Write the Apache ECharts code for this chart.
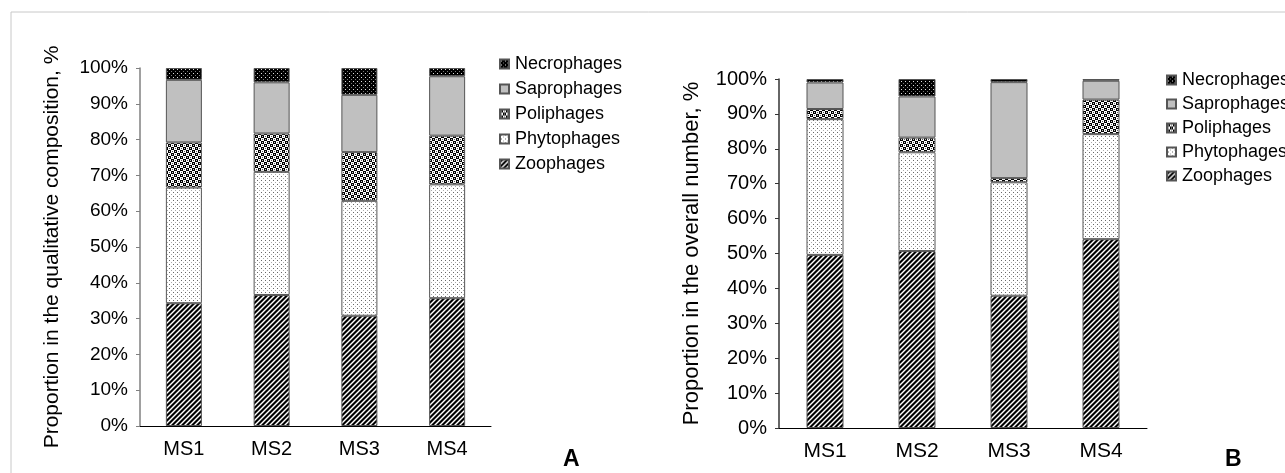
<!DOCTYPE html>
<html><head><meta charset="utf-8">
<script src="https://cdn.jsdelivr.net/npm/echarts@6/dist/echarts.min.js"></script>
<style>html,body{margin:0;padding:0;background:#fff}#c{width:1285px;height:473px}</style>
</head><body><div id="c"></div>
<script>
const categories = ['MS1', 'MS2', 'MS3', 'MS4'];
const seriesNames = ['Zoophages', 'Phytophages', 'Poliphages', 'Saprophages', 'Necrophages'];
const legendOrder = ['Necrophages', 'Saprophages', 'Poliphages', 'Phytophages', 'Zoophages'];
const yTicks = [0, 10, 20, 30, 40, 50, 60, 70, 80, 90, 100];

// Panel A: qualitative composition, %
const zoophagesA   = [34.3, 36.6, 30.8, 35.7];
const phytophagesA = [32.3, 34.4, 32.1, 31.8];
const poliphagesA  = [12.6, 10.7, 13.6, 13.6];
const saprophagesA = [17.5, 14.3, 16.0, 16.6];
const necrophagesA = [3.3, 4.0, 7.5, 2.3];

// Panel B: overall number, %
const zoophagesB   = [49.6, 50.7, 37.9, 54.1];
const phytophagesB = [38.9, 28.3, 32.5, 30.1];
const poliphagesB  = [2.9, 4.2, 1.2, 9.9];
const saprophagesB = [7.6, 11.8, 27.5, 5.4];
const necrophagesB = [1.0, 5.0, 0.9, 0.5];

function makePattern(w, h, draw) {
  const c = document.createElement('canvas');
  c.width = w; c.height = h;
  const ctx = c.getContext('2d');
  draw(ctx, w, h);
  return { image: c, repeat: 'repeat' };
}
const patZoo = makePattern(5, 5, (ctx) => {
  ctx.fillStyle = '#000'; ctx.fillRect(0, 0, 5, 5);
  ctx.strokeStyle = '#fff'; ctx.lineWidth = 1.4;
  [[0, 5, 5, 0], [-5, 5, 5, -5], [0, 10, 10, 0]].forEach(l => {
    ctx.beginPath(); ctx.moveTo(l[0], l[1]); ctx.lineTo(l[2], l[3]); ctx.stroke();
  });
});
const patPhyto = makePattern(4, 4, (ctx) => {
  ctx.fillStyle = '#fff'; ctx.fillRect(0, 0, 4, 4);
  ctx.fillStyle = '#666'; ctx.fillRect(1, 0, 1, 1);
  ctx.fillStyle = '#aaa'; ctx.fillRect(3, 2, 1, 1);
});
const patPoli = makePattern(6, 6, (ctx) => {
  ctx.fillStyle = '#fff'; ctx.fillRect(0, 0, 6, 6);
  ctx.fillStyle = '#000';
  ctx.fillRect(0, 0, 3, 3); ctx.fillRect(3, 3, 3, 3);
  ctx.fillStyle = '#ccc';
  ctx.fillRect(1, 1, 1, 1); ctx.fillRect(4, 4, 1, 1);
  ctx.fillStyle = '#555';
  ctx.fillRect(4, 1, 1, 1); ctx.fillRect(1, 4, 1, 1);
});
const patNecro = makePattern(4, 4, (ctx) => {
  ctx.fillStyle = '#000'; ctx.fillRect(0, 0, 4, 4);
  ctx.fillStyle = '#ddd'; ctx.fillRect(1, 1, 1, 1);
  ctx.fillStyle = '#777'; ctx.fillRect(3, 3, 1, 1);
});
const fills = [patZoo, patPhyto, patPoli, '#c0c0c0', patNecro];

const font = 'Liberation Sans, Arial, sans-serif';
const dataA = [zoophagesA, phytophagesA, poliphagesA, saprophagesA, necrophagesA];
const dataB = [zoophagesB, phytophagesB, poliphagesB, saprophagesB, necrophagesB];

function yAxis(gridIndex, name, lineColor, labelSize, nameGap, nameSize) {
  return {
    type: 'value', gridIndex, min: 0, max: 100, interval: 10,
    name, nameLocation: 'middle', nameGap,
    nameTextStyle: { fontFamily: font, fontSize: nameSize, color: '#000' },
    axisLine: { show: true, lineStyle: { color: lineColor, width: 1.5 } },
    axisTick: { show: true, length: 4, lineStyle: { color: lineColor } },
    axisLabel: { formatter: '{value}%', fontFamily: font, fontSize: labelSize, color: '#000', margin: 12 },
    splitLine: { show: false }
  };
}
function xAxis(gridIndex, size) {
  return {
    type: 'category', gridIndex, data: categories,
    axisLine: { lineStyle: { color: '#000', width: 1 } },
    axisTick: { length: 5, lineStyle: { color: '#000' } },
    axisLabel: { fontFamily: font, fontSize: size, color: '#000', margin: 13 }
  };
}
const series = [];
[dataA, dataB].forEach((d, gi) => {
  seriesNames.forEach((n, i) => {
    series.push({
      name: n, type: 'bar', stack: 'S' + gi, xAxisIndex: gi, yAxisIndex: gi,
      data: d[i], barWidth: gi === 0 ? 36 : 37,
      itemStyle: { color: fills[i], borderColor: '#555', borderWidth: 1 },
      emphasis: { disabled: true }
    });
  });
});
function legend(left, top, gap) {
  return {
    data: legendOrder, orient: 'vertical', left, top,
    itemWidth: 9, itemHeight: 9, itemGap: gap, icon: 'rect',
    textStyle: { fontFamily: font, fontSize: 18, color: '#000', padding: [0, 0, 0, 1] },
    selectedMode: false
  };
}
const chart = echarts.init(document.getElementById('c'), null, { renderer: 'canvas' });
chart.setOption({
  animation: false,
  backgroundColor: '#fff',
  grid: [
    { left: 140, top: 68, width: 351, bottom: 47 },
    { left: 779, top: 79, width: 368, bottom: 45 }
  ],
  xAxis: [xAxis(0, 20), xAxis(1, 21)],
  yAxis: [yAxis(0, 'Proportion in the qualitative composition, %', '#808080', 19, 77, 21),
          yAxis(1, 'Proportion in the overall number, %', '#333', 20, 76, 22)],
  legend: [legend(494, 50, 7), legend(1161, 66, 6)],
  series,
  graphic: [
    { type: 'rect', shape: { x: 11, y: 12, width: 1400, height: 600 }, style: { fill: 'none', stroke: '#c8c8c8', lineWidth: 1 }, silent: true },
    { type: 'text', left: 563, top: 448, style: { text: 'A', fontFamily: font, fontSize: 23, fontWeight: 'bold', fill: '#000' } },
    { type: 'text', left: 1225, top: 448, style: { text: 'B', fontFamily: font, fontSize: 23, fontWeight: 'bold', fill: '#000' } }
  ]
});
</script></body></html>
